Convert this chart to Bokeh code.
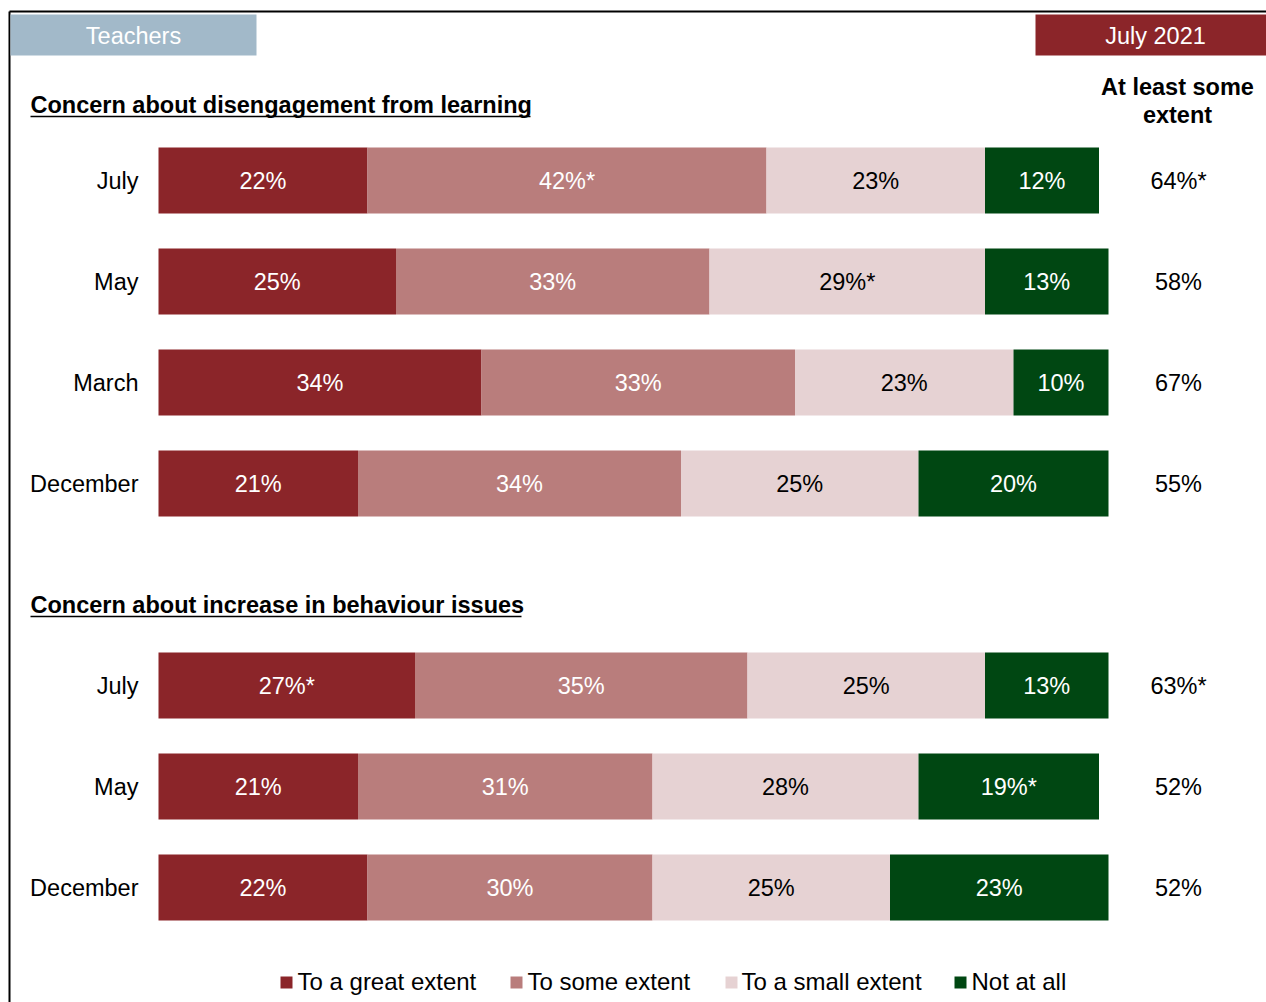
import numpy as np
from bokeh.plotting import figure
from bokeh.models import Range1d, ColumnDataSource
from bokeh.core.properties import value
from bokeh.embed import file_html
from bokeh.resources import INLINE

# ---------------- data ----------------
series = ["To a great extent", "To some extent", "To a small extent", "Not at all"]
colors = ["#8B2529", "#B97D7C", "#E6D2D3", "#004712"]
text_colors = ["white", "white", "black", "white"]

dis_rows = ["July", "May", "March", "December"]
dis_great = [22, 25, 34, 21]
dis_some = [42, 33, 33, 34]
dis_small = [23, 29, 23, 25]
dis_not = [12, 13, 10, 20]
dis_great_lbl = ["22%", "25%", "34%", "21%"]
dis_some_lbl = ["42%*", "33%", "33%", "34%"]
dis_small_lbl = ["23%", "29%*", "23%", "25%"]
dis_not_lbl = ["12%", "13%", "10%", "20%"]
dis_total = ["64%*", "58%", "67%", "55%"]

beh_rows = ["July", "May", "December"]
beh_great = [27, 21, 22]
beh_some = [35, 31, 30]
beh_small = [25, 28, 25]
beh_not = [13, 19, 23]
beh_great_lbl = ["27%*", "21%", "22%"]
beh_some_lbl = ["35%", "31%", "30%"]
beh_small_lbl = ["25%", "28%", "25%"]
beh_not_lbl = ["13%", "19%*", "23%"]
beh_total = ["63%*", "52%", "52%"]

# ---------------- layout ----------------
W, H = 1266, 1002
FONT = "Liberation Sans"
FS = "23.5px"
X0 = 158.0       # x of 0%
PXPCT = 9.5      # pixels per percent

p = figure(width=W, height=H, output_backend="svg", toolbar_location=None,
           x_range=Range1d(0, W), y_range=Range1d(H, 0),
           min_border=0, outline_line_color=None,
           x_axis_location=None, y_axis_location=None,
           background_fill_color="white", border_fill_color="white")
p.xgrid.visible = False
p.ygrid.visible = False
p.extra_x_ranges = {"pct": Range1d((0 - X0) / PXPCT, (W - X0) / PXPCT)}

# frame lines
p.segment(x0=[9, 9], y0=[11, 11], x1=[W, 9], y1=[11, H], line_color="black", line_width=2)

# header boxes
p.quad(left=[10], right=[256], top=[14], bottom=[55], fill_color="#A2B9C9", line_color=None)
p.text(x=[133], y=[35], text=["Teachers"], text_color="white", text_font=value(FONT),
       text_font_size=FS, text_align="center", text_baseline="middle")
p.quad(left=[1035], right=[W], top=[14], bottom=[55], fill_color="#8B2529", line_color=None)
p.text(x=[1155], y=[35], text=["July 2021"], text_color="white", text_font=value(FONT),
       text_font_size=FS, text_align="center", text_baseline="middle")

# right column heading
p.text(x=[1177, 1177], y=[86, 114], text=["At least some", "extent"], text_color="black",
       text_font=value(FONT), text_font_size=FS, text_font_style="bold",
       text_align="center", text_baseline="middle")

def section(title, title_y, underline_end, rows, vals, lbls, totals, first_y):
    p.text(x=[30], y=[title_y], text=[title], text_color="black", text_font=value(FONT),
           text_font_size=FS, text_font_style="bold", text_align="left", text_baseline="middle")
    p.segment(x0=[30], y0=[title_y + 12], x1=[underline_end], y1=[title_y + 12],
              line_color="black", line_width=1.5)
    ys = first_y + 101.0 * np.arange(len(rows))
    p.text(x=[138] * len(rows), y=list(ys), text=rows, text_color="black", text_font=value(FONT),
           text_font_size=FS, text_align="right", text_baseline="middle")
    left = np.zeros(len(rows))
    for k in range(4):
        v = np.array(vals[k], dtype=float)
        src = ColumnDataSource(dict(y=ys, left=left, right=left + v,
                                    mid=left + v / 2, lbl=lbls[k]))
        p.hbar(y="y", left="left", right="right", height=66, source=src,
               fill_color=colors[k], line_color=None, x_range_name="pct")
        p.text(x="mid", y="y", text="lbl", source=src, x_range_name="pct",
               text_color=text_colors[k], text_font=value(FONT), text_font_size=FS,
               text_align="center", text_baseline="middle")
        left = left + v
    p.text(x=[1178] * len(rows), y=list(ys), text=totals, text_color="black",
           text_font=value(FONT), text_font_size=FS, text_align="center",
           text_baseline="middle")

section("Concern about disengagement from learning", 104, 530, dis_rows,
        [dis_great, dis_some, dis_small, dis_not],
        [dis_great_lbl, dis_some_lbl, dis_small_lbl, dis_not_lbl], dis_total, 180)
section("Concern about increase in behaviour issues", 604, 521, beh_rows,
        [beh_great, beh_some, beh_small, beh_not],
        [beh_great_lbl, beh_some_lbl, beh_small_lbl, beh_not_lbl], beh_total, 685)

# legend
leg_sq_x = [286, 516, 731, 960]
leg_tx_x = [297, 527, 741, 971]
p.rect(x=leg_sq_x, y=[982] * 4, width=12, height=12, fill_color=colors, line_color=None)
p.text(x=leg_tx_x, y=[981] * 4, text=series, text_color="black", text_font=value(FONT),
       text_font_size="24px", text_align="left", text_baseline="middle")

open("out.html", "w").write(file_html(p, INLINE))
